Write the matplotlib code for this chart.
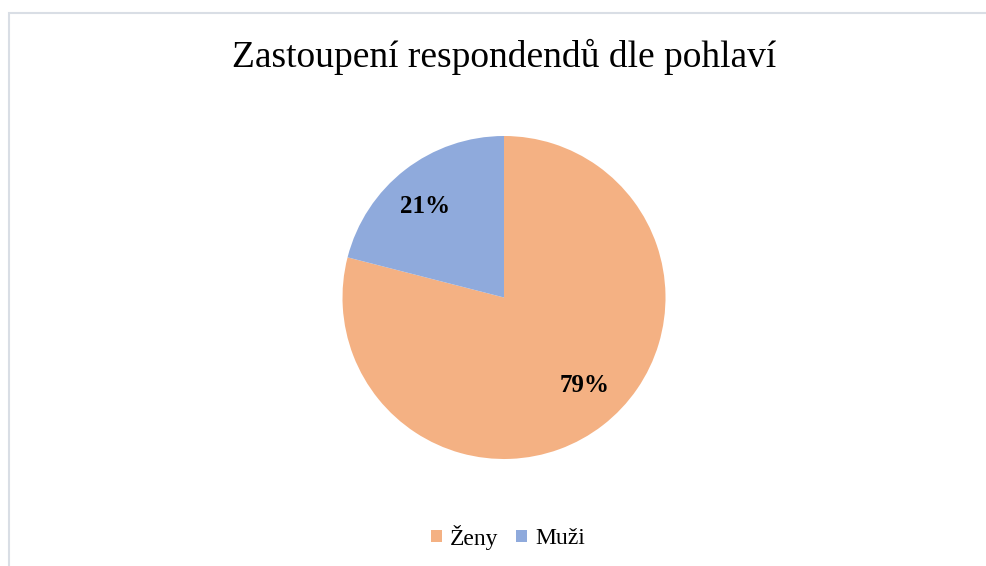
import matplotlib.pyplot as plt
from matplotlib.patches import Rectangle

# data
labels = ['Ženy', 'Muži']
values = [79, 21]
colors = ['#F4B183', '#8FAADC']
title = 'Zastoupení respondendů dle pohlaví'

plt.rcParams['font.family'] = ['Liberation Serif', 'DejaVu Serif']

fig = plt.figure(figsize=(9.86, 5.66), dpi=100)
W, H = 986, 566

# chart border (light gray frame, runs off right and bottom)
fig.patches.append(Rectangle((8.5 / W, -0.01), 1.02, 1 - 12.5 / H + 0.01,
                             transform=fig.transFigure, fill=False,
                             edgecolor='#D9DEE5', linewidth=1.5))

# pie axes: centre (504, 297.5), radius ~161.5 px
r = 161.5
cx, cy = 504, 297.5
ax = fig.add_axes([(cx - r) / W, 1 - (cy + r) / H, 2 * r / W, 2 * r / H])
wedges, _ = ax.pie(values, colors=colors, startangle=90, counterclock=False,
                   radius=1.0, wedgeprops=dict(linewidth=0))
ax.set_xlim(-1, 1)
ax.set_ylim(-1, 1)
ax.set_aspect('equal')

# percentage labels
pct_pos = [(585, 385), (425, 207)]
for v, (px, py) in zip(values, pct_pos):
    fig.text(px / W, 1 - py / H, f'{v}%', ha='center', va='center',
             fontsize=18, fontweight='bold')

fig.text(504 / W, 1 - 57 / H, title, ha='center', va='center', fontsize=27)

leg = fig.legend(wedges, labels, loc='center', bbox_to_anchor=(508 / W, 1 - 537 / H),
                 ncol=2, frameon=False, fontsize=17, handlelength=0.45,
                 handleheight=0.45, handletextpad=0.35, columnspacing=0.75)

fig.savefig('out.png', dpi=100)
